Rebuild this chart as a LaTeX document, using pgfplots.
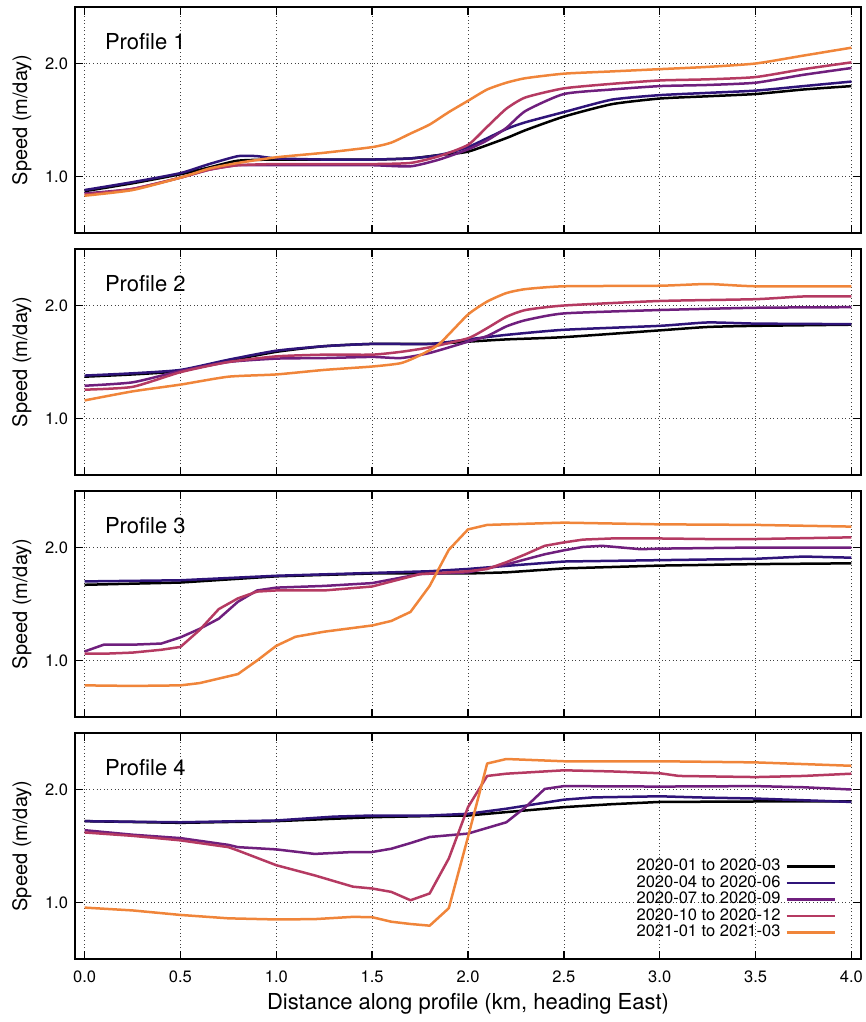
\documentclass[border=0pt]{standalone}
\usepackage{fontspec}
\setmainfont{TeX Gyre Heros}
\usepackage{pgfplots}
\pgfplotsset{compat=1.18}
\definecolor{cA}{HTML}{000000}
\definecolor{cB}{HTML}{2F1479}
\definecolor{cC}{HTML}{6F1F7D}
\definecolor{cD}{HTML}{B53A62}
\definecolor{cE}{HTML}{F0853A}
\tikzset{ttl/.style={anchor=base west, inner sep=0pt, font=\fontsize{22}{26}\selectfont}}
\pgfplotsset{
  panel/.style={
    width=786pt, height=226pt, scale only axis,
    xmin=-0.05, xmax=4.05, ymin=0.5, ymax=2.5,
    xtick={0,0.5,1,1.5,2,2.5,3,3.5,4}, ytick={1,2},
    tick align=inside, major tick length=8pt,
    grid=major,
    grid style={black!75, line width=0.7pt, dash pattern=on 1pt off 2.6pt},
    axis line style={line width=1.5pt},
    every tick/.style={black, line width=1.5pt},
    /pgf/number format/assume math mode=true,
    /pgf/number format/.cd, fixed, fixed zerofill, precision=1, /pgfplots/.cd,
    ticklabel style={font=\fontsize{16.5}{18}\selectfont},
    yticklabel style={xshift=-3.5pt},
    xticklabel style={yshift=-8pt},
    ylabel={Speed (m/day)},
    ylabel style={font=\fontsize{20}{24}\selectfont, at={(axis description cs:-0.0675,0.5)}, anchor=center},
    every axis plot/.append style={line width=2.5pt, no markers, line join=round},
  },
}
\begin{document}
\begin{tikzpicture}
\useasboundingbox (0,0) rectangle (865pt,-1022pt);
% ---------------- Panel 1
\begin{axis}[panel, at={(75pt,-233pt)}, anchor=south west, xticklabel=\empty,
  every axis plot/.append style={smooth, tension=0.35}]
\addplot[cA] coordinates {(0,0.87)(0.25,0.94)(0.5,1.02)(0.65,1.08)(0.8,1.14)(1.0,1.15)(1.25,1.15)(1.5,1.15)(1.7,1.16)(1.85,1.19)(2.0,1.22)(2.2,1.34)(2.3,1.41)(2.5,1.53)(2.75,1.64)(3.0,1.69)(3.25,1.71)(3.5,1.73)(3.75,1.77)(4.0,1.80)};
\addplot[cB] coordinates {(0,0.88)(0.25,0.95)(0.5,1.03)(0.65,1.11)(0.8,1.18)(0.9,1.18)(1.0,1.16)(1.25,1.15)(1.5,1.15)(1.7,1.16)(1.85,1.19)(2.0,1.26)(2.2,1.42)(2.3,1.48)(2.5,1.57)(2.75,1.68)(3.0,1.72)(3.25,1.74)(3.5,1.76)(3.75,1.80)(4.0,1.84)};
\addplot[cC] coordinates {(0,0.85)(0.25,0.89)(0.5,0.99)(0.65,1.06)(0.8,1.10)(1.0,1.10)(1.25,1.10)(1.5,1.10)(1.7,1.09)(1.85,1.15)(2.0,1.24)(2.1,1.32)(2.2,1.43)(2.3,1.58)(2.5,1.73)(2.75,1.77)(3.0,1.80)(3.25,1.81)(3.5,1.83)(3.75,1.90)(4.0,1.96)};
\addplot[cD] coordinates {(0,0.84)(0.25,0.89)(0.5,0.99)(0.65,1.06)(0.8,1.10)(1.0,1.11)(1.25,1.11)(1.5,1.11)(1.7,1.12)(1.85,1.18)(2.0,1.28)(2.1,1.44)(2.2,1.60)(2.3,1.70)(2.5,1.78)(2.75,1.82)(3.0,1.85)(3.25,1.86)(3.5,1.88)(3.75,1.95)(4.0,2.01)};
\addplot[cE] coordinates {(0,0.83)(0.25,0.88)(0.5,0.99)(0.65,1.07)(0.8,1.12)(1.0,1.17)(1.25,1.21)(1.5,1.26)(1.6,1.30)(1.7,1.38)(1.8,1.46)(1.9,1.57)(2.0,1.67)(2.1,1.77)(2.2,1.83)(2.3,1.87)(2.5,1.91)(2.75,1.93)(3.0,1.95)(3.25,1.97)(3.5,2.00)(3.75,2.07)(4.0,2.14)};
\node[ttl] at (rel axis cs:0.038,0.81) {Profile 1};
\end{axis}
% ---------------- Panel 2
\begin{axis}[panel, at={(75pt,-475pt)}, anchor=south west, xticklabel=\empty,
  every axis plot/.append style={smooth, tension=0.35}]
\addplot[cA] coordinates {(0,1.37)(0.25,1.39)(0.5,1.42)(0.75,1.51)(1.0,1.59)(1.25,1.64)(1.5,1.66)(1.8,1.66)(2.0,1.68)(2.2,1.70)(2.5,1.72)(3.0,1.78)(3.25,1.81)(3.5,1.82)(4.0,1.83)};
\addplot[cB] coordinates {(0,1.38)(0.25,1.40)(0.5,1.43)(0.75,1.52)(1.0,1.60)(1.25,1.64)(1.5,1.66)(1.8,1.66)(2.0,1.70)(2.2,1.74)(2.5,1.785)(3.0,1.82)(3.25,1.85)(3.5,1.84)(4.0,1.835)};
\addplot[cC] coordinates {(0,1.29)(0.25,1.32)(0.5,1.42)(0.75,1.50)(1.0,1.53)(1.25,1.535)(1.5,1.545)(1.65,1.535)(1.8,1.58)(2.0,1.68)(2.1,1.73)(2.2,1.815)(2.3,1.87)(2.5,1.93)(3.0,1.96)(3.5,1.98)(4.0,1.985)};
\addplot[cD] coordinates {(0,1.255)(0.25,1.28)(0.5,1.41)(0.75,1.50)(1.0,1.55)(1.25,1.565)(1.5,1.565)(1.65,1.59)(1.8,1.63)(2.0,1.71)(2.1,1.80)(2.2,1.90)(2.3,1.96)(2.5,2.00)(3.0,2.04)(3.5,2.056)(3.75,2.08)(4.0,2.08)};
\addplot[cE] coordinates {(0,1.16)(0.25,1.24)(0.5,1.30)(0.75,1.37)(1.0,1.39)(1.25,1.43)(1.5,1.46)(1.65,1.49)(1.75,1.56)(1.85,1.66)(2.0,1.92)(2.1,2.035)(2.2,2.11)(2.3,2.145)(2.5,2.17)(3.0,2.175)(3.25,2.19)(3.5,2.17)(4.0,2.17)};
\node[ttl] at (rel axis cs:0.038,0.81) {Profile 2};
\end{axis}
% ---------------- Panel 3
\begin{axis}[panel, at={(75pt,-717pt)}, anchor=south west, xticklabel=\empty]
\addplot[cA] coordinates {(0,1.67)(0.5,1.69)(1.0,1.745)(1.5,1.77)(1.8,1.77)(2.0,1.77)(2.2,1.78)(2.5,1.815)(3.0,1.84)(3.5,1.853)(4.0,1.86)};
\addplot[cB] coordinates {(0,1.70)(0.5,1.71)(1.0,1.75)(1.5,1.775)(1.8,1.79)(2.0,1.81)(2.25,1.844)(2.5,1.876)(3.0,1.888)(3.5,1.90)(3.75,1.92)(4.0,1.91)};
\addplot[cC] coordinates {(0,1.08)(0.1,1.14)(0.25,1.14)(0.4,1.15)(0.5,1.205)(0.6,1.28)(0.7,1.37)(0.8,1.52)(0.9,1.62)(1.0,1.645)(1.25,1.66)(1.5,1.685)(1.75,1.765)(2.0,1.78)(2.2,1.85)(2.4,1.94)(2.5,1.975)(2.6,2.005)(2.7,2.015)(2.9,1.985)(3.0,1.99)(3.5,2.0)(4.0,2.0)};
\addplot[cD] coordinates {(0,1.06)(0.1,1.06)(0.25,1.07)(0.4,1.095)(0.5,1.12)(0.6,1.27)(0.7,1.455)(0.8,1.55)(0.9,1.61)(1.0,1.62)(1.25,1.62)(1.5,1.655)(1.75,1.765)(2.0,1.79)(2.1,1.81)(2.2,1.87)(2.3,1.94)(2.4,2.015)(2.5,2.045)(2.6,2.07)(2.75,2.08)(3.0,2.08)(3.25,2.075)(3.5,2.075)(4.0,2.09)};
\addplot[cE] coordinates {(0,0.78)(0.25,0.775)(0.5,0.78)(0.6,0.80)(0.7,0.84)(0.8,0.88)(0.9,1.00)(1.0,1.13)(1.1,1.21)(1.25,1.255)(1.5,1.31)(1.6,1.35)(1.7,1.43)(1.8,1.66)(1.9,1.98)(2.0,2.16)(2.1,2.20)(2.5,2.22)(3.0,2.205)(3.5,2.20)(4.0,2.185)};
\node[ttl] at (rel axis cs:0.038,0.81) {Profile 3};
\end{axis}
% ---------------- Panel 4
\begin{axis}[panel, at={(75pt,-959pt)}, anchor=south west,
  xlabel={Distance along profile (km, heading East)},
  xlabel style={font=\fontsize{22}{26}\selectfont, at={(axis description cs:0.5,-0.20)}, anchor=center},
  legend plot pos=right,
  legend cell align=right,
  legend image code/.code={\draw[#1, line width=2.2pt] (0pt,0pt) -- (48pt,0pt);},
  legend style={at={(rel axis cs:0.968,0.08)}, anchor=south east, draw=none, fill=none,
    inner sep=0pt, row sep=0pt,
    nodes={inner ysep=1pt, inner xsep=5pt, text height=11.5pt, text depth=3pt, font=\fontsize{16.5}{18}\selectfont}},
]
\addplot[cA] coordinates {(0,1.72)(0.5,1.705)(1.0,1.72)(1.5,1.755)(1.8,1.765)(2.0,1.77)(2.2,1.80)(2.5,1.844)(2.75,1.87)(3.0,1.89)(3.5,1.894)(4.0,1.894)};
\addlegendentry{2020-01 to 2020-03}
\addplot[cB] coordinates {(0,1.72)(0.5,1.71)(1.0,1.726)(1.3,1.76)(1.5,1.77)(1.8,1.77)(2.0,1.785)(2.2,1.83)(2.5,1.91)(2.65,1.93)(3.0,1.94)(3.2,1.93)(3.5,1.92)(4.0,1.89)};
\addlegendentry{2020-04 to 2020-06}
\addplot[cC] coordinates {(0,1.64)(0.25,1.60)(0.5,1.57)(0.75,1.51)(0.8,1.49)(1.0,1.47)(1.2,1.43)(1.4,1.447)(1.5,1.447)(1.6,1.476)(1.7,1.526)(1.8,1.58)(2.0,1.61)(2.1,1.66)(2.2,1.71)(2.3,1.844)(2.4,2.005)(2.5,2.03)(3.0,2.026)(3.5,2.03)(3.75,2.02)(4.0,2.0)};
\addlegendentry{2020-07 to 2020-09}
\addplot[cD] coordinates {(0,1.62)(0.25,1.59)(0.5,1.55)(0.75,1.49)(0.8,1.46)(1.0,1.33)(1.2,1.24)(1.4,1.14)(1.5,1.124)(1.6,1.094)(1.7,1.02)(1.8,1.08)(1.9,1.39)(2.0,1.844)(2.1,2.12)(2.2,2.14)(2.5,2.17)(2.75,2.16)(3.0,2.144)(3.1,2.12)(3.5,2.11)(3.75,2.12)(4.0,2.14)};
\addlegendentry{2020-10 to 2020-12}
\addplot[cE] coordinates {(0,0.955)(0.25,0.93)(0.5,0.89)(0.75,0.86)(1.0,0.85)(1.2,0.853)(1.4,0.873)(1.5,0.87)(1.6,0.83)(1.7,0.81)(1.8,0.795)(1.9,0.95)(2.0,1.58)(2.1,2.23)(2.2,2.27)(2.5,2.25)(3.0,2.25)(3.5,2.24)(4.0,2.21)};
\addlegendentry{2021-01 to 2021-03}
\node[ttl] at (rel axis cs:0.038,0.81) {Profile 4};
\end{axis}
\end{tikzpicture}
\end{document}
